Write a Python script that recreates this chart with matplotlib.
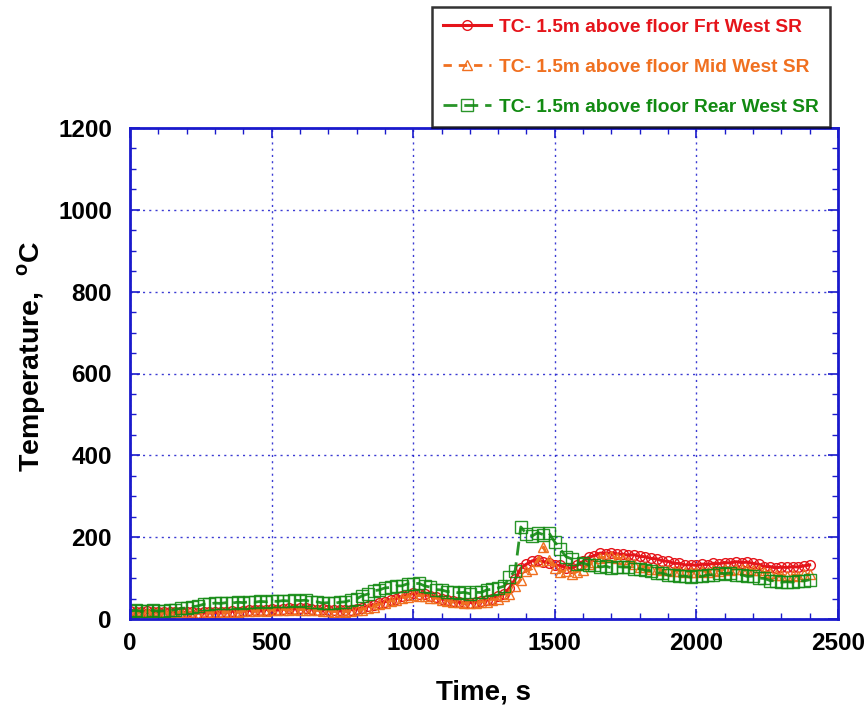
import numpy as np
import matplotlib
matplotlib.use("Agg")
import matplotlib.pyplot as plt
from matplotlib.ticker import MultipleLocator

plt.rcParams['font.family'] = ['Liberation Sans', 'DejaVu Sans']
plt.rcParams['font.weight'] = 'bold'
plt.rcParams['mathtext.fontset'] = 'custom'
plt.rcParams['mathtext.rm'] = 'Liberation Sans:bold'
plt.rcParams['mathtext.bf'] = 'Liberation Sans:bold'

time_s = list(range(0, 2401, 20))

frt_west = [
    19, 18, 18, 19, 18, 17, 18, 17, 17, 16, 17,
    16, 15, 16, 17, 16, 18, 17, 19, 18, 20,
    21, 22, 21, 23, 24, 23, 25, 26, 25, 27,
    26, 25, 23, 24, 22, 22, 21, 22, 23, 25,
    27, 31, 34, 39, 42, 47, 50, 55, 58, 63,
    61, 60, 56, 54, 49, 47, 43, 42, 39, 40,
    42, 43, 47, 50, 56, 61, 76, 97, 124, 134,
    142, 145, 140, 138, 132, 131, 125, 124, 131, 141,
    151, 155, 161, 160, 162, 159, 158, 156, 157, 153,
    152, 148, 147, 142, 141, 136, 136, 132, 133, 131,
    134, 133, 136, 135, 138, 137, 140, 138, 139, 136,
    134, 128, 128, 125, 127, 126, 128, 127, 130, 132,
]

mid_west = [
    18, 17, 18, 17, 16, 17, 16, 15, 16, 16, 15,
    15, 14, 15, 16, 15, 17, 16, 18, 17, 19,
    20, 19, 21, 20, 22, 21, 23, 22, 24, 23,
    23, 21, 21, 19, 20, 18, 19, 18, 20, 21,
    23, 28, 30, 36, 38, 44, 46, 52, 54, 59,
    57, 57, 52, 51, 46, 45, 41, 41, 38, 39,
    38, 42, 42, 47, 48, 55, 61, 80, 96, 117,
    123, 142, 176, 143, 124, 116, 117, 110, 116, 120,
    134, 139, 150, 151, 154, 149, 146, 139, 135, 128,
    127, 123, 123, 119, 120, 117, 118, 115, 116, 114,
    117, 116, 119, 118, 121, 120, 123, 121, 122, 119,
    119, 114, 113, 108, 108, 105, 107, 106, 109, 109,
]

rear_west = [
    20, 21, 19, 20, 21, 19, 20, 21, 23, 26, 27,
    30, 32, 36, 37, 39, 38, 40, 39, 41, 40,
    42, 41, 43, 42, 44, 43, 45, 44, 46, 45,
    46, 42, 42, 39, 40, 38, 41, 42, 46, 49,
    57, 61, 69, 71, 76, 77, 81, 81, 86, 86,
    87, 81, 78, 72, 71, 67, 67, 64, 65, 62,
    65, 65, 71, 73, 76, 80, 102, 118, 225, 208,
    203, 211, 206, 210, 188, 170, 152, 147, 135, 137,
    132, 131, 127, 129, 125, 128, 127, 127, 123, 123,
    119, 118, 113, 112, 107, 107, 104, 105, 102, 104,
    104, 108, 108, 112, 111, 112, 108, 108, 104, 105,
    100, 99, 94, 93, 90, 91, 90, 94, 93, 96,
]

labels = ["TC- 1.5m above floor Frt West SR",
          "TC- 1.5m above floor Mid West SR",
          "TC- 1.5m above floor Rear West SR"]
x_ticks = [0, 500, 1000, 1500, 2000, 2500]
y_ticks = [0, 200, 400, 600, 800, 1000, 1200]

RED = '#e5141a'
ORANGE = '#f07020'
GREEN = '#128a12'
BLUE = '#1a1acc'

fig = plt.figure(figsize=(8.68, 7.08), dpi=100)
ax = fig.add_axes([130/868, 1-619/708, (838-130)/868, (619-128)/708])

l1, = ax.plot(time_s, frt_west, color=RED, lw=2.2, marker='o', ms=7,
              mfc='none', mec=RED, mew=1.0, label=labels[0])
l2, = ax.plot(time_s, mid_west, color=ORANGE, lw=2.0, ls=(0, (3, 2.5)), marker='^', ms=7,
              mfc='none', mec=ORANGE, mew=1.0, label=labels[1])
l3, = ax.plot(time_s, rear_west, color=GREEN, lw=2.0, ls=(0, (5, 2.5)), marker='s', ms=9,
              mfc='none', mec=GREEN, mew=1.0, alpha=0.9, label=labels[2])

ax.set_xlim(0, 2500)
ax.set_ylim(0, 1200)
ax.set_xticks(x_ticks)
ax.set_yticks(y_ticks)
ax.xaxis.set_minor_locator(MultipleLocator(100))
ax.yaxis.set_minor_locator(MultipleLocator(50))
ax.tick_params(which='both', direction='in', top=True, right=True, color=BLUE,
               labelsize=17.5)
ax.tick_params(axis='y', pad=13)
ax.tick_params(axis='x', pad=9)
ax.tick_params(which='major', length=7, width=1.2)
ax.tick_params(which='minor', length=4, width=1.0)
for lab in ax.get_xticklabels() + ax.get_yticklabels():
    lab.set_fontweight('bold')
for sp in ax.spines.values():
    sp.set_color(BLUE)
    sp.set_linewidth(2)
ax.grid(True, which='major', color=BLUE, ls=(0, (1.5, 3)), lw=1.0, alpha=0.85)

ax.set_xlabel("Time, s", fontsize=20, fontweight='bold', labelpad=18)
ax.set_ylabel(r"Temperature,  $^{\mathrm{o}}$C", fontsize=20.5, fontweight='bold')
ax.yaxis.set_label_coords(-0.1155, 0.536)

leg = fig.legend(handles=[l1, l2, l3], loc='upper right',
                 bbox_to_anchor=(830/868, 1-7/708), bbox_transform=fig.transFigure,
                 borderaxespad=0.0,
                 frameon=True, fancybox=False, edgecolor='black',
                 handlelength=2.5, labelspacing=1.18, borderpad=0.6, handletextpad=0.4,
                 labelcolor='linecolor', prop={'weight': 'bold', 'size': 13.8})
leg.get_frame().set_linewidth(1.8)
leg.set_zorder(10)

fig.savefig("out.png", dpi=100)
